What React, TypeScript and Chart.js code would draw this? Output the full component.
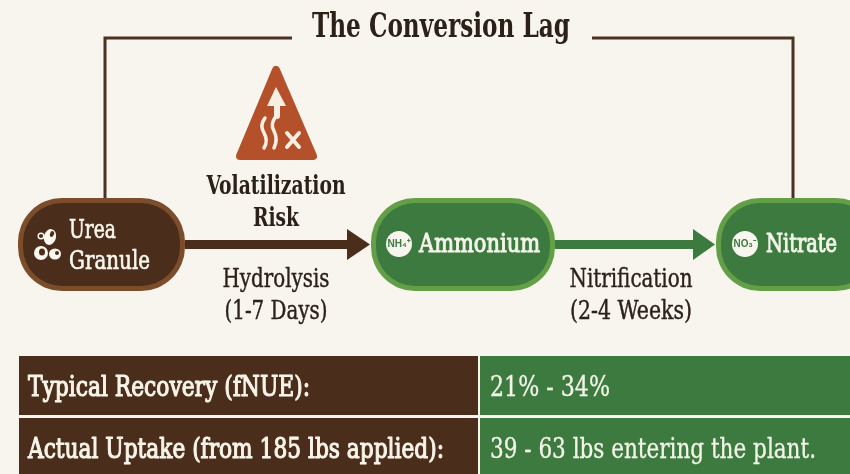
import React, { useEffect, useRef } from "react";
import { Chart, registerables } from "chart.js";

Chart.register(...registerables);

const TITLE = "The Conversion Lag";
const RISK_LABEL = ["Volatilization", "Risk"];
const STAGES = ["Ammonium", "Nitrate"];
const UREA_LABEL = ["Urea", "Granule"];
const STEP_LABELS = [
  ["Hydrolysis", "(1-7 Days)"],
  ["Nitrification", "(2-4 Weeks)"],
];
const TABLE_LEFT = ["Typical Recovery (fNUE):", "Actual Uptake (from 185 lbs applied):"];
const TABLE_RIGHT = ["21% - 34%", "39 - 63 lbs entering the plant."];

const FRAME_LEFT = [{ x: 292, y: 38 }, { x: 105, y: 38 }, { x: 105, y: 198 }];
const FRAME_RIGHT = [{ x: 592, y: 38 }, { x: 793, y: 38 }, { x: 793, y: 198 }];
const SHAFT_BROWN = [{ x: 185, y: 244.5 }, { x: 348, y: 244.5 }];
const SHAFT_GREEN = [{ x: 555, y: 244.5 }, { x: 694, y: 244.5 }];

const BROWN = "#4a2e1b";
const BROWN_EDGE = "#7b4d2a";
const GREEN = "#3c7a3f";
const GREEN_EDGE = "#639f46";
const INK = "#2b2119";
const SERIF = '"DejaVu Serif Condensed", "DejaVu Serif", serif';

const diagram = {
  id: "diagram",
  beforeDraw(chart: any) {
    const { ctx } = chart;
    ctx.save();
    ctx.fillStyle = "#f7f5ee";
    ctx.fillRect(0, 0, chart.width, chart.height);
    ctx.restore();
  },
  afterDatasetsDraw(chart: any) {
    const { ctx } = chart;
    const X = (v: number) => chart.scales.x.getPixelForValue(v);
    const Y = (v: number) => chart.scales.y.getPixelForValue(v);

    const text = (s: string, x: number, y: number, size: number, weight: string, color: string, width: number, align: CanvasTextAlign = "center", heavy = 0) => {
      ctx.font = `${weight} ${size}px ${SERIF}`;
      ctx.fillStyle = color;
      ctx.textAlign = align;
      ctx.textBaseline = "middle";
      ctx.fillText(s, X(x), Y(y + 1.5), width);
      if (heavy) {
        ctx.strokeStyle = color;
        ctx.lineWidth = heavy;
        ctx.lineJoin = "round";
        ctx.strokeText(s, X(x), Y(y + 1.5), width);
      }
    };
    const pill = (x0: number, x1: number, y0: number, y1: number, fill: string, edge: string) => {
      ctx.beginPath();
      ctx.roundRect(X(x0), Y(y0), X(x1) - X(x0), Y(y1) - Y(y0), 44);
      ctx.fillStyle = edge;
      ctx.fill();
      ctx.beginPath();
      ctx.roundRect(X(x0) + 5, Y(y0) + 5, X(x1) - X(x0) - 10, Y(y1) - Y(y0) - 10, 39);
      ctx.fillStyle = fill;
      ctx.fill();
    };
    const poly = (pts: number[][], fill: string) => {
      ctx.beginPath();
      pts.forEach(([a, b], i) => (i ? ctx.lineTo(X(a), Y(b)) : ctx.moveTo(X(a), Y(b))));
      ctx.closePath();
      ctx.fillStyle = fill;
      ctx.fill();
    };
    const blob = (x: number, y: number, rx: number, ry: number, rot = 0) => {
      ctx.beginPath();
      ctx.ellipse(X(x), Y(y), rx, ry, rot, 0, Math.PI * 2);
      ctx.fill();
    };

    ctx.save();
    ctx.filter = "blur(0.4px)";

    // arrow heads
    poly([[347, 229], [370, 244.5], [347, 260]], BROWN);
    poly([[693, 229], [715, 244.5], [693, 260]], GREEN);

    // pills
    pill(18, 185, 198, 291, BROWN, BROWN_EDGE);
    pill(371, 555, 198, 291, GREEN, GREEN_EDGE);
    pill(716, 880, 198, 291, GREEN, GREEN_EDGE);

    // title & labels
    text(TITLE, 441, 27, 33, "bold", INK, 258);
    text(RISK_LABEL[0], 276, 186, 26, "bold", INK, 139);
    text(RISK_LABEL[1], 276, 218, 26, "bold", INK, 46);
    text(STEP_LABELS[0][0], 276, 279, 26, "normal", INK, 107, "center", 0.4);
    text(STEP_LABELS[0][1], 276, 311, 26, "normal", INK, 103, "center", 0.4);
    text(STEP_LABELS[1][0], 631, 279, 26, "normal", INK, 123, "center", 0.4);
    text(STEP_LABELS[1][1], 631, 311, 26, "normal", INK, 122, "center", 0.4);

    // node labels
    text(UREA_LABEL[0], 69, 230, 26, "normal", "#fbf8ef", 47, "left", 0.6);
    text(UREA_LABEL[1], 69, 261, 26, "normal", "#fbf8ef", 81, "left", 0.6);
    text(STAGES[0], 419, 244, 26, "normal", "#f3f5e8", 121, "left", 1);
    text(STAGES[1], 766, 244, 26, "normal", "#f3f5e8", 71, "left", 1);

    // granule icon
    ctx.fillStyle = "#fbf8ef";
    blob(50, 237, 6, 8, 0.25);
    blob(41, 253, 7, 7);
    blob(55, 254, 6, 5.5);
    ctx.strokeStyle = "#fbf8ef";
    ctx.lineWidth = 1.4;
    ctx.beginPath();
    ctx.arc(X(41), Y(236), 2.8, 0, Math.PI * 2);
    ctx.stroke();
    ctx.fillStyle = BROWN;
    blob(52, 234, 2, 3, 0.3);
    blob(42, 252, 3, 3.5);
    blob(57, 253, 2, 2);

    // ion badges
    ctx.fillStyle = "#f7f5ee";
    blob(399, 244, 13, 13);
    blob(745, 244, 13, 13);
    ctx.font = `bold 11px "Liberation Sans", sans-serif`;
    ctx.fillStyle = GREEN;
    ctx.textAlign = "center";
    ctx.textBaseline = "middle";
    ctx.fillText("NH\u2084\u207A", X(399), Y(244), 23);
    ctx.fillText("NO\u2083\u207B", X(745), Y(244), 23);

    // hazard triangle
    ctx.beginPath();
    ctx.lineJoin = "round";
    ctx.moveTo(X(276), Y(70));
    ctx.lineTo(X(313), Y(156));
    ctx.lineTo(X(240), Y(156));
    ctx.closePath();
    ctx.fillStyle = "#b4502a";
    ctx.strokeStyle = "#b4502a";
    ctx.lineWidth = 8;
    ctx.fill();
    ctx.stroke();

    // hazard glyph
    ctx.strokeStyle = "#f8efe3";
    ctx.lineCap = "round";
    poly([[276, 87], [286, 106], [267, 106]], "#f8efe3");
    ctx.lineWidth = 6;
    ctx.beginPath();
    ctx.moveTo(X(277), Y(104));
    ctx.lineTo(X(277), Y(116));
    ctx.stroke();
    ctx.lineWidth = 3.5;
    ctx.beginPath();
    ctx.moveTo(X(276), Y(116));
    ctx.bezierCurveTo(X(272), Y(122), X(271), Y(126), X(274), Y(131));
    ctx.bezierCurveTo(X(277), Y(137), X(277), Y(142), X(274), Y(148));
    ctx.stroke();
    ctx.beginPath();
    ctx.moveTo(X(265), Y(118));
    ctx.bezierCurveTo(X(260), Y(125), X(262), Y(129), X(264), Y(133));
    ctx.bezierCurveTo(X(267), Y(138), X(267), Y(143), X(264), Y(148));
    ctx.stroke();
    ctx.lineWidth = 4;
    ctx.beginPath();
    ctx.moveTo(X(287), Y(133)); ctx.lineTo(X(299), Y(147));
    ctx.moveTo(X(299), Y(133)); ctx.lineTo(X(287), Y(147));
    ctx.stroke();

    // table
    const tbl = (x0: number, x1: number, y0: number, y1: number, c: string) => {
      ctx.fillStyle = c;
      ctx.fillRect(X(x0), Y(y0), X(x1) - X(x0), Y(y1) - Y(y0));
    };
    tbl(19, 478, 356, 415, BROWN);
    tbl(19, 478, 418, 474, BROWN);
    tbl(480, 850, 356, 415, GREEN);
    tbl(480, 850, 418, 474, GREEN);
    text(TABLE_LEFT[0], 28, 387, 28, "normal", "#f8f4e9", 282, "left", 1.1);
    text(TABLE_LEFT[1], 28, 449, 28, "normal", "#f8f4e9", 416, "left", 1.1);
    text(TABLE_RIGHT[0], 490, 387, 27, "normal", "#f3f5e8", 120, "left", 0.3);
    text(TABLE_RIGHT[1], 490, 449, 27, "normal", "#f3f5e8", 326, "left", 0.3);

    ctx.restore();
  },
};

export default function App() {
  const ref = useRef<HTMLCanvasElement>(null);
  useEffect(() => {
    document.body.style.margin = "0";
    const line = (data: any[], color: string, width: number) => ({
      data,
      borderColor: color,
      borderWidth: width,
      pointRadius: 0,
      showLine: true,
      fill: false,
      tension: 0,
      borderJoinStyle: "miter" as const,
    });
    const chart = new Chart(ref.current!, {
      type: "scatter",
      data: {
        datasets: [
          line(FRAME_LEFT, "#4a3322", 3),
          line(FRAME_RIGHT, "#4a3322", 3),
          line(SHAFT_BROWN, BROWN, 9),
          line(SHAFT_GREEN, GREEN, 9),
        ],
      },
      options: {
        animation: false,
        responsive: false,
        layout: { padding: 0 },
        plugins: { legend: { display: false }, tooltip: { enabled: false } },
        scales: {
          x: { type: "linear", min: 0, max: 850, display: false },
          y: { type: "linear", min: 0, max: 474, reverse: true, display: false },
        },
      },
      plugins: [diagram],
    });
    return () => chart.destroy();
  }, []);
  return <canvas ref={ref} width={850} height={474} style={{ display: "block" }} />;
}
